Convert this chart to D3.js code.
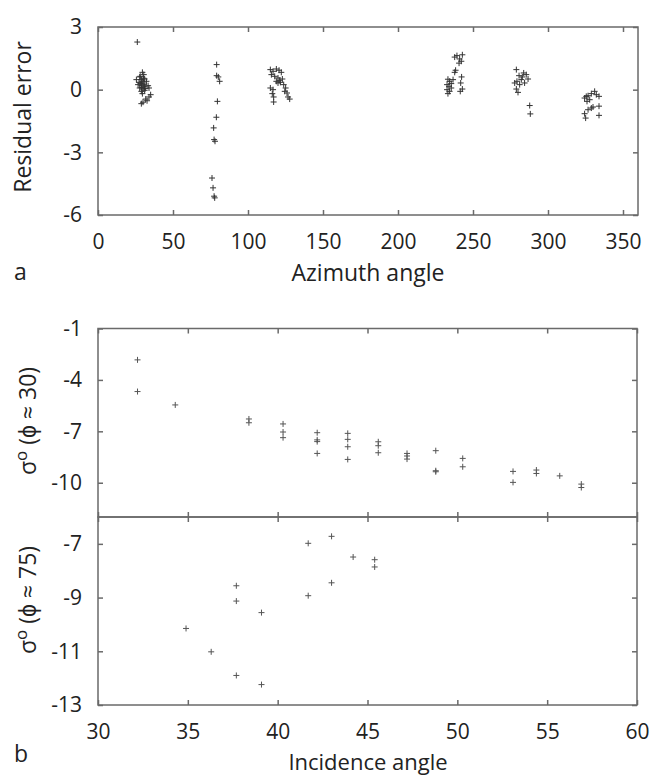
<!DOCTYPE html>
<html>
<head>
<meta charset="utf-8">
<script src="https://cdnjs.cloudflare.com/ajax/libs/d3/7.8.5/d3.min.js"></script>
<style>
  body { margin: 0; background: #fff; }
  text { font-family: "Open Sans", sans-serif; fill: #222; }
</style>
</head>
<body>
<div class="canva"></div>
<script>
// panel a : residual error vs azimuth (one line per look direction)
const azimuth = [
  26.2, 29.6, 30.5, 27.8, 25.6, 28.9, 31.1, 27.4, 30.0, 32.3, 26.7, 28.9, 31.1, 33.4, 27.8, 30.0, 34.0, 28.9, 31.1, 29.6, 35.1, 34.0, 32.7, 28.9, 30.0, 31.8, 28.2, 30.7, 29.4, 29.0, 30.3, 31.5, 28.5,
  79.1, 79.1, 80.2, 81.1, 79.6, 78.9, 77.1, 77.4, 78.0, 76.0, 76.7, 77.8, 77.4,
  114.9, 116.7, 118.9, 120.7, 122.2, 115.6, 117.8, 120.0, 121.1, 122.9, 118.9, 120.0, 121.6, 123.8, 114.9, 116.7, 125.1, 116.2, 126.0, 117.1, 126.7, 127.8, 117.1, 124.5,
  237.8, 239.3, 241.1, 242.9, 242.2, 240.7, 238.4, 237.8, 233.3, 234.4, 235.5, 232.7, 234.0, 235.5, 232.7, 234.4, 233.3, 236.7, 242.4, 241.8, 242.9, 241.5,
  278.9, 280.7, 283.8, 285.5, 279.3, 282.2, 284.4, 286.7, 281.1, 278.9, 280.0, 287.8, 288.2, 282.9, 277.8,
  324.4, 325.5, 326.7, 328.9, 331.1, 332.2, 334.0, 326.0, 327.8, 326.7, 328.9, 330.0, 324.4, 325.1, 334.0, 334.0
];
const residual = [
  2.28, 0.83, 0.72, 0.61, 0.48, 0.48, 0.51, 0.35, 0.32, 0.40, 0.24, 0.19, 0.16, 0.19, 0.08, 0.03, 0.08, -0.08, -0.03, -0.19, -0.24, -0.35, -0.53, -0.67, -0.60, -0.45, 0.64, 0.24, 0.40, 0.10, 0.55, 0.05, 0.30,
  1.20, 0.67, 0.61, 0.40, -0.56, -1.32, -1.83, -2.39, -2.47, -4.23, -4.70, -5.18, -5.10,
  0.96, 0.88, 0.99, 0.93, 0.83, 0.72, 0.64, 0.56, 0.45, 0.51, 0.40, 0.32, 0.35, 0.24, 0.08, 0.00, 0.08, -0.19, -0.16, -0.35, -0.35, -0.45, -0.59, -0.08,
  1.56, 1.63, 1.47, 1.67, 1.36, 1.27, 0.93, 0.83, 0.50, 0.40, 0.29, 0.24, 0.16, 0.08, 0.00, -0.08, -0.19, 0.48, 0.61, 0.32, 0.03, -0.08,
  0.96, 0.67, 0.80, 0.72, 0.40, 0.48, 0.32, 0.51, 0.24, 0.03, -0.13, -0.76, -1.16, 0.61, 0.32,
  -0.40, -0.32, -0.29, -0.19, -0.08, -0.24, -0.32, -0.56, -0.48, -0.96, -0.88, -0.83, -1.15, -1.36, -0.79, -1.23
];

// panel b : sigma0 vs incidence, phi ~ 30 and phi ~ 75
const incidence30 = [32.2, 32.2, 34.3, 38.4, 38.4, 40.3, 40.3, 40.3, 42.2, 42.2, 42.2, 42.2, 43.9, 43.9, 43.9, 43.9, 45.6, 45.6, 45.6, 47.2, 47.2, 47.2, 48.8, 48.8, 48.8, 50.3, 50.3, 53.1, 53.1, 54.4, 54.4, 55.7, 56.9, 56.9];
const sigma30 = [-2.83, -4.68, -5.46, -6.28, -6.50, -6.57, -7.04, -7.37, -7.08, -7.50, -7.60, -8.29, -7.12, -7.47, -7.90, -8.64, -7.61, -7.84, -8.25, -8.29, -8.44, -8.62, -8.13, -9.30, -9.36, -8.58, -9.07, -9.34, -9.98, -9.26, -9.46, -9.60, -10.08, -10.28];
const incidence75 = [34.9, 36.3, 37.7, 37.7, 37.7, 39.1, 39.1, 41.7, 41.7, 43.0, 43.0, 44.2, 45.4, 45.4];
const sigma75 = [-10.15, -11.02, -8.56, -9.13, -11.90, -9.56, -12.24, -6.98, -8.93, -6.72, -8.45, -7.49, -7.59, -7.86];

// ticks
const azTicks = [0, 50, 100, 150, 200, 250, 300, 350];
const resTicks = [-6, -3, 0, 3];
const incTicks = [30, 35, 40, 45, 50, 55, 60];
const sig30Ticks = [-10, -7, -4, -1];
const sig75Ticks = [-13, -11, -9, -7];

const svg = d3.select(".canva").append("svg")
    .attr("width", 655)
    .attr("height", 776);

const frameColor = "#6a6a6a";
const plus = "M-3,0H3M0,-3V3";
const fmt = d => String(d);

// scales
const xA = d3.scaleLinear().domain([0, 360]).range([98, 638]);
const yA = d3.scaleLinear().domain([-6, 3]).range([215, 27]);
const xB = d3.scaleLinear().domain([30, 60]).range([98, 637]);
const yB1 = d3.scaleLinear().domain([-12, -1]).range([517, 328.5]);
const yB2 = d3.scaleLinear().domain([-13, -6]).range([705, 517]);

function styleAxis(g) {
    g.select(".domain").remove();
    g.selectAll(".tick line").attr("stroke", frameColor).attr("stroke-width", 1.5);
    g.attr("font-size", 21).attr("font-family", null);
}

function panel(x, y, xTicks, yTicks, showX) {
    const [x0, x1] = x.range();
    const [yb, yt] = y.range();
    const g = svg.append("g");

    g.append("g")
        .attr("transform", `translate(0,${yb})`)
        .call(d3.axisBottom(x).tickValues(xTicks).tickSizeInner(-5).tickSizeOuter(0)
            .tickPadding(19).tickFormat(showX ? fmt : ""))
        .call(styleAxis);
    g.append("g")
        .attr("transform", `translate(0,${yt})`)
        .call(d3.axisTop(x).tickValues(xTicks).tickSizeInner(-5).tickSizeOuter(0).tickFormat(""))
        .call(styleAxis);
    g.append("g")
        .attr("transform", `translate(${x0},0)`)
        .call(d3.axisLeft(y).tickValues(yTicks).tickSizeInner(-5).tickSizeOuter(0)
            .tickPadding(16).tickFormat(fmt))
        .call(styleAxis);
    g.append("g")
        .attr("transform", `translate(${x1},0)`)
        .call(d3.axisRight(y).tickValues(yTicks).tickSizeInner(-5).tickSizeOuter(0).tickFormat(""))
        .call(styleAxis);

    g.append("rect")
        .attr("x", x0).attr("y", yt)
        .attr("width", x1 - x0).attr("height", yb - yt)
        .attr("fill", "none")
        .attr("stroke", frameColor)
        .attr("stroke-width", 1.5);
    return g;
}

function points(g, x, y, xs, ys, color) {
    g.append("g").selectAll("path")
        .data(d3.zip(xs, ys))
        .enter()
        .append("path")
        .attr("transform", d => `translate(${x(d[0])},${y(d[1])})`)
        .attr("d", plus)
        .attr("fill", "none")
        .attr("stroke", color)
        .attr("stroke-width", 1);
}

// panel a
const gA = panel(xA, yA, azTicks, resTicks, true);
points(gA, xA, yA, azimuth, residual, "#333");

svg.append("text")
    .attr("x", 368).attr("y", 281)
    .attr("text-anchor", "middle")
    .attr("font-size", 23)
    .text("Azimuth angle");
svg.append("text")
    .attr("transform", "translate(31,117) rotate(-90)")
    .attr("text-anchor", "middle")
    .attr("font-size", 23)
    .text("Residual error");
svg.append("text")
    .attr("x", 14).attr("y", 280)
    .attr("font-size", 23)
    .text("a");

// panel b
const gB1 = panel(xB, yB1, incTicks, sig30Ticks, false);
points(gB1, xB, yB1, incidence30, sigma30, "#555");
const gB2 = panel(xB, yB2, incTicks, sig75Ticks, true);
points(gB2, xB, yB2, incidence75, sigma75, "#555");

function sigmaLabel(cx, cy, phi) {
    const t = svg.append("text")
        .attr("transform", `translate(${cx},${cy}) rotate(-90)`)
        .attr("text-anchor", "middle")
        .attr("font-size", 23);
    t.append("tspan").text("σ");
    t.append("tspan").attr("font-size", 17).attr("dy", -9).text("o");
    t.append("tspan").attr("dy", 9).text(` (ϕ ≈ ${phi})`);
}
sigmaLabel(36, 421, 30);
sigmaLabel(36, 600, 75);

svg.append("text")
    .attr("x", 368).attr("y", 770)
    .attr("text-anchor", "middle")
    .attr("font-size", 22)
    .text("Incidence angle");
svg.append("text")
    .attr("x", 14).attr("y", 762)
    .attr("font-size", 23)
    .text("b");
</script>
</body>
</html>
